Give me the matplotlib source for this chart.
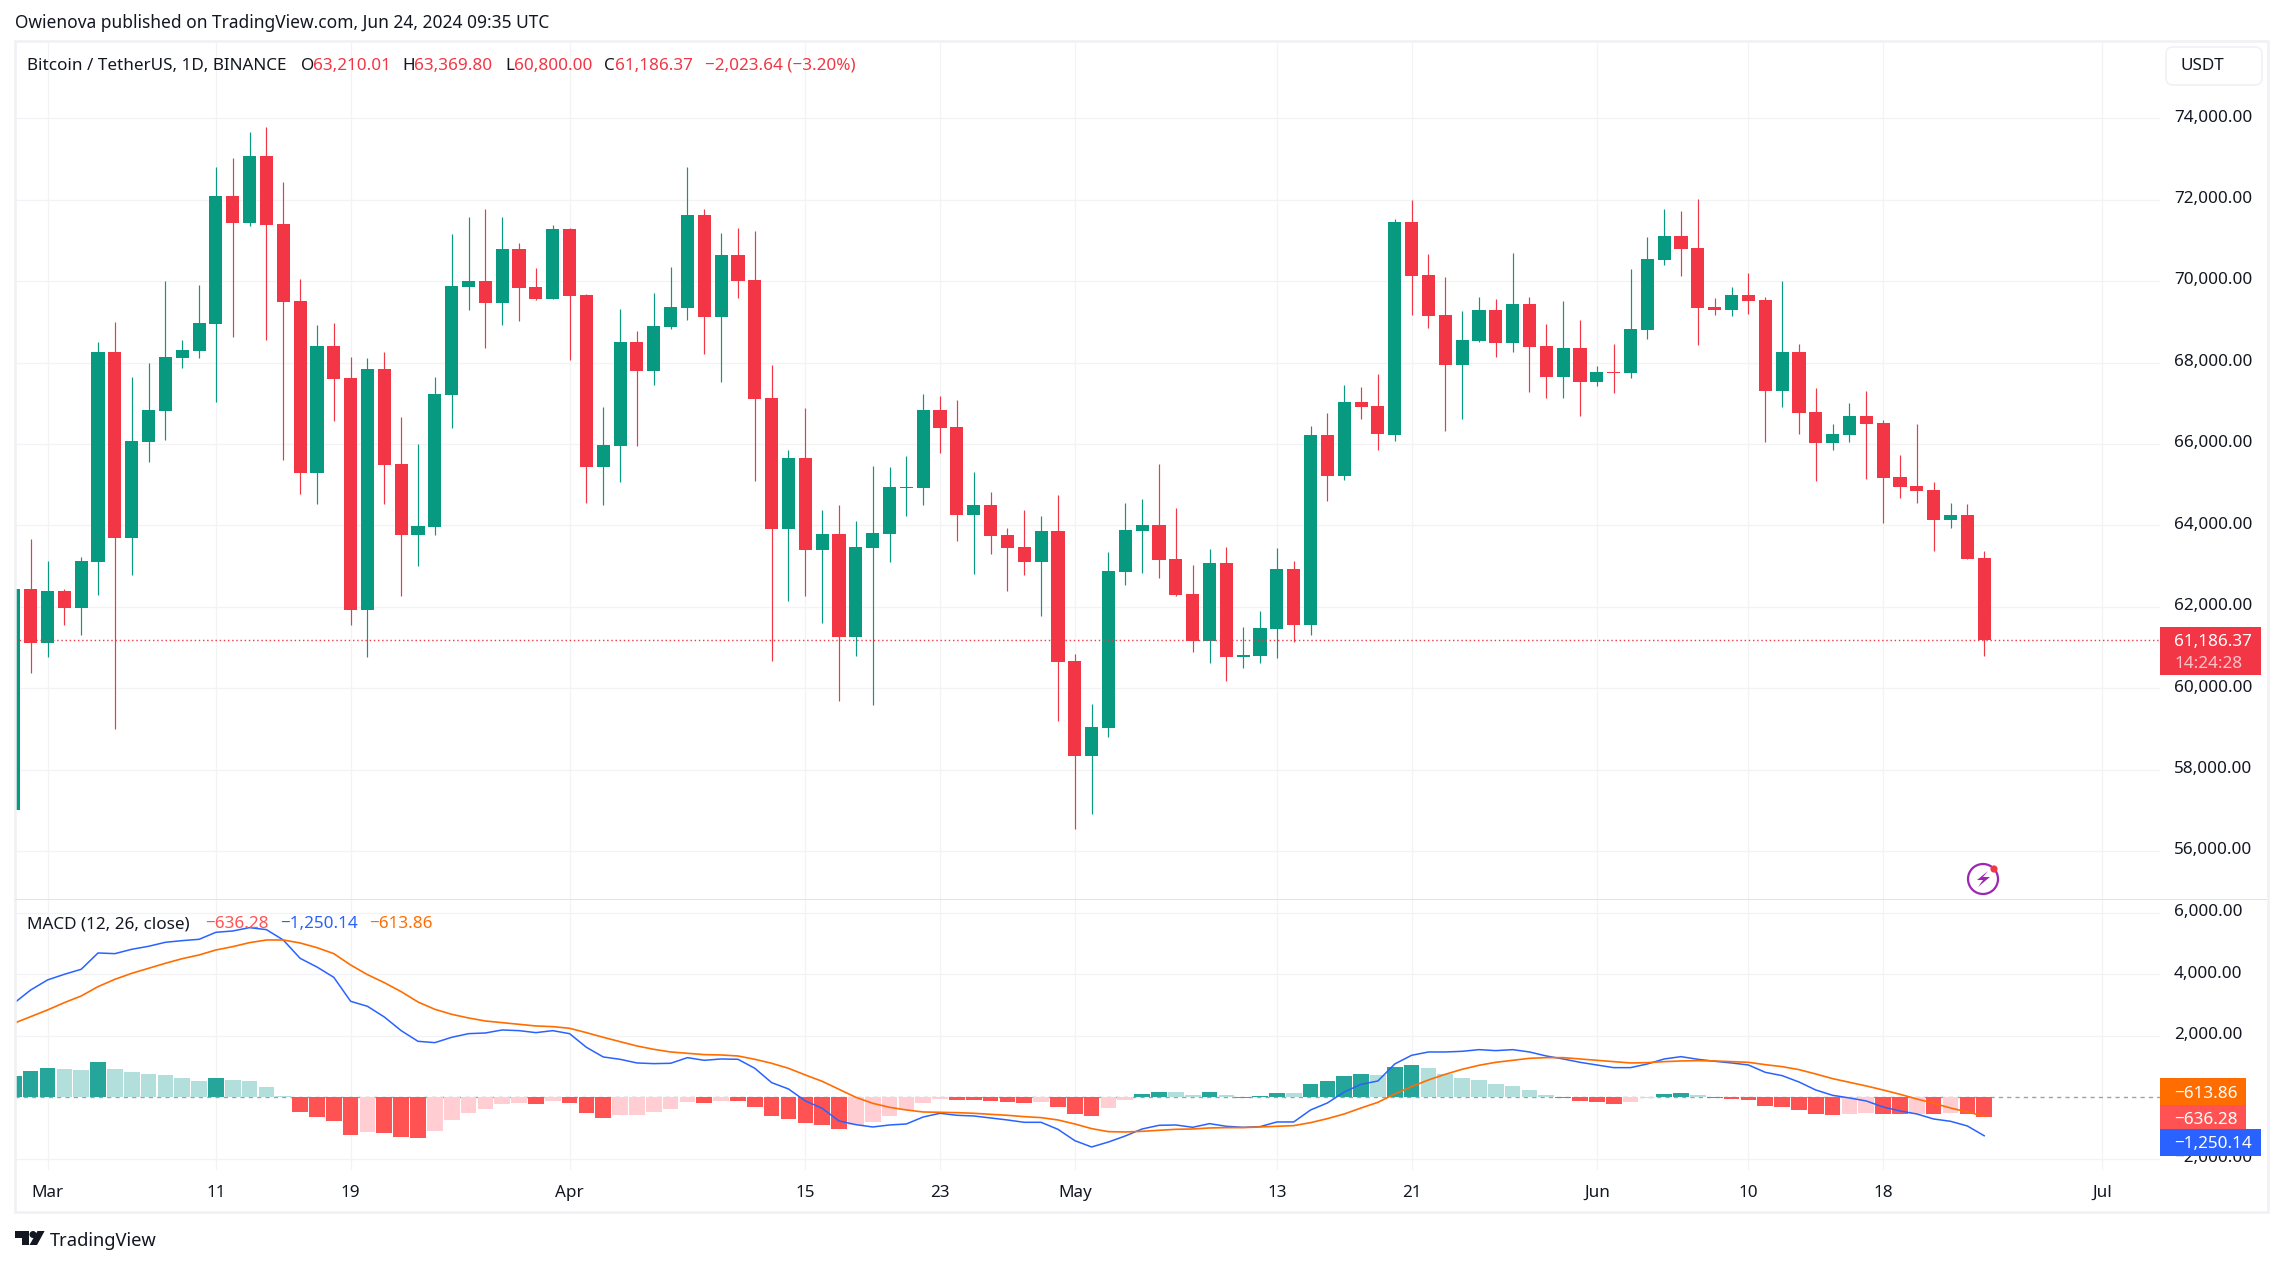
import matplotlib
matplotlib.use("Agg")
import numpy as np
from matplotlib import pyplot as plt
from matplotlib.patches import Rectangle, Circle, Polygon, FancyBboxPatch
from matplotlib.transforms import IdentityTransform, ScaledTranslation

W, H = 2283, 1265

# day offset from Mar 1 2024, first candle is Feb 28
days = list(range(-2, 116))

opens = [57019, 62439, 61120, 62389, 61980, 63102, 68260, 63699, 66049, 66810,
         68112, 68284, 68947, 72091, 71428, 73073, 71403, 69512, 65288, 68407,
         67621, 61923, 67842, 65509, 63765, 63961, 67203, 69856, 70003, 69463,
         70789, 69856, 69561, 71281, 69660, 65435, 65951, 68505, 67793, 68874,
         69340, 71624, 69119, 70642, 70028, 67130, 63912, 65656, 63396, 63789,
         61268, 63446, 63789, 64919, 64919, 66835, 66417, 64256, 64502, 63765,
         63470, 63102, 63863, 60670, 58337, 59025, 62856, 63863, 64010, 63176,
         62316, 61161, 63077, 60768, 60793, 61456, 62930, 61554, 66221, 65214,
         67031, 66933, 66221, 71453, 70151, 69168, 67940, 68521, 69291, 68481,
         69439, 68407, 67646, 68358, 67523, 67768, 67744, 68800, 70515, 71109,
         70814, 69357, 69291, 69660, 69533, 67302, 68260, 66786, 66025, 66212,
         66688, 66516, 65189, 64968, 64870, 64133, 64248, 63210.01]
highs = [62439, 63667, 63126, 62439, 63225, 68505, 68996, 67646, 67989, 70003,
         68554, 69905, 72803, 73024, 73663, 73786, 72435, 70052, 68923, 68972,
         68137, 68112, 68260, 66663, 66000, 67646, 71158, 71575, 71772, 71575,
         70937, 70323, 71379, 71305, 69684, 66909, 69316, 68775, 69709, 70347,
         72803, 71772, 71182, 71305, 71231, 67940, 65853, 66884, 64379, 64502,
         64109, 65460, 65435, 65705, 67228, 67179, 67081, 65312, 64821, 63937,
         64379, 64232, 64747, 60842, 59614, 63347, 64551, 64649, 65509, 64428,
         63028, 63421, 63470, 61505, 61898, 63446, 63126, 66442, 66761, 67449,
         67400, 67719, 71526, 71993, 70667, 70102, 69267, 69610, 69561, 70691,
         69610, 68947, 69512, 69037, 67916, 68456, 70298, 71084, 71772, 71723,
         72017, 69586, 69848, 70200, 69610, 70003, 68456, 67367, 66491, 67007,
         67302, 66589, 65722, 66491, 65058, 64551, 64526, 63369.80]
lows = [57019, 60375, 60777, 61554, 61309, 62291, 59008, 62782, 65558, 66098,
        67867, 68112, 67031, 68628, 71354, 68554, 65607, 64772, 64526, 66565,
        61554, 60777, 64526, 62275, 63012, 63765, 66393, 69291, 68358, 68923,
        69021, 69537, 69561, 68063, 64551, 64502, 65067, 65951, 67449, 68824,
        69045, 68210, 67523, 69586, 65091, 60670, 62144, 62267, 61612, 59688,
        60793, 59589, 63102, 64232, 64502, 65779, 63618, 62807, 63298, 62389,
        62782, 61784, 59197, 56544, 56912, 58804, 62537, 62831, 62709, 62267,
        60891, 60621, 60179, 60498, 60621, 60744, 61137, 61309, 64600, 65116,
        66614, 65853, 66074, 69168, 68849, 66319, 66614, 68505, 68137, 68260,
        67277, 67130, 67130, 66688, 67433, 67253, 67621, 68579, 70396, 70126,
        68431, 69168, 69144, 69185, 66049, 66900, 66237, 65083, 65853, 66049,
        65140, 64060, 64674, 64551, 63372, 63929, 63176, 60800.00]
closes = [62439, 61120, 62389, 61980, 63126, 68260, 63699, 66074, 66835, 68137,
          68309, 68972, 72091, 71428, 73073, 71379, 69488, 65288, 68407, 67596,
          61923, 67842, 65484, 63765, 63986, 67228, 69881, 70003, 69463, 70789,
          69831, 69561, 71281, 69635, 65435, 65975, 68505, 67793, 68898, 69365,
          71624, 69119, 70642, 70003, 67105, 63912, 65656, 63396, 63789, 61268,
          63470, 63814, 64944, 64944, 66835, 66393, 64256, 64502, 63740, 63446,
          63102, 63863, 60646, 58337, 59049, 62881, 63888, 64010, 63151, 62291,
          61161, 63077, 60768, 60818, 61481, 62930, 61554, 66221, 65214, 67031,
          66909, 66246, 71453, 70126, 69144, 67940, 68554, 69291, 68481, 69439,
          68374, 67646, 68358, 67523, 67768, 67744, 68824, 70544, 71109, 70789,
          69340, 69291, 69660, 69512, 67302, 68260, 66761, 66025, 66237, 66688,
          66491, 65165, 64936, 64846, 64133, 64248, 63176, 61186.37]

hist = [694, 856, 954, 921, 889, 1149, 921, 824, 759, 726, 629, 531, 629, 564, 531,
        336, 43, -477, -640, -770, -1225, -1127, -1160, -1290, -1322, -1095, -737,
        -509, -379, -217, -184, -217, -119, -184, -509, -672, -575, -564, -477, -379,
        -152, -184, -119, -130, -314, -607, -705, -835, -900, -1030, -900, -802, -607,
        -412, -184, -54, -87, -98, -119, -152, -184, -152, -314, -542, -607, -347,
        -87, 108, 173, 163, 76, 173, 76, -22, 43, 141, 130, 434, 531, 694, 759, 726,
        986, 1051, 954, 759, 629, 564, 434, 369, 238, 76, -22, -119, -152, -217, -152,
        -22, 108, 141, 76, -22, -54, -87, -282, -314, -412, -542, -575, -542, -509,
        -542, -553, -542, -553, -509, -542, -636.28]
macd_line = [3057, 3490, 3816, 4000, 4163, 4694, 4672, 4813, 4911, 5041, 5095, 5138,
             5366, 5409, 5518, 5453, 5116, 4520, 4238, 3902, 3122, 2959, 2612, 2168,
             1821, 1778, 1951, 2070, 2092, 2190, 2168, 2103, 2168, 2070, 1626, 1312,
             1236, 1117, 1095, 1106, 1290, 1203, 1247, 1236, 943, 477, 271, -119, -358,
             -770, -889, -965, -900, -867, -640, -520, -585, -607, -672, -737, -813,
             -813, -1041, -1409, -1615, -1453, -1257, -1030, -911, -900, -976, -856,
             -943, -976, -954, -802, -802, -412, -184, 173, 423, 531, 1084, 1366, 1474,
             1474, 1496, 1550, 1518, 1550, 1474, 1344, 1247, 1138, 1051, 965, 965, 1084,
             1247, 1322, 1236, 1171, 1117, 1051, 813, 705, 499, 238, 65, -22, -119,
             -314, -444, -542, -705, -780, -932, -1250.14]
signal_line = [2406, 2623, 2840, 3079, 3295, 3599, 3837, 4032, 4195, 4358, 4509, 4629,
               4791, 4900, 5030, 5116, 5116, 5019, 4867, 4672, 4303, 3989, 3729, 3436,
               3100, 2862, 2699, 2580, 2482, 2428, 2374, 2320, 2298, 2244, 2103, 1951,
               1810, 1669, 1561, 1474, 1431, 1388, 1377, 1344, 1236, 1106, 943, 726, 520,
               260, 0, -195, -325, -412, -477, -488, -499, -520, -553, -585, -629, -661,
               -737, -867, -1019, -1117, -1127, -1106, -1073, -1041, -1030, -997, -986,
               -986, -965, -943, -921, -824, -694, -542, -347, -163, 108, 347, 564, 748,
               911, 1041, 1138, 1203, 1268, 1290, 1290, 1247, 1203, 1160, 1117, 1127,
               1160, 1182, 1192, 1182, 1160, 1138, 1062, 997, 900, 759, 607, 488, 369, 238,
               98, -54, -195, -347, -477, -613.86]

price_ticks = list(range(56000, 76000, 2000))
macd_ticks = [-2000, 2000, 4000, 6000]
time_days = [0, 10, 18, 31, 45, 53, 61, 73, 81, 92, 101, 109, 122]
time_labels = ["Mar", "11", "19", "Apr", "15", "23", "May", "13", "21", "Jun", "10", "18", "Jul"]

GREEN = "#089981"
RED = "#F23645"
GRID = "#f3f3f5"
INK = "#131722"
FONT = "Noto Sans"
FS = 12.3

plt.rcParams["font.family"] = [FONT, "DejaVu Sans"]
plt.rcParams["font.size"] = FS

fig = plt.figure(figsize=(W / 100, H / 100), dpi=100, facecolor="white")


def fx(x):
    return x / W


def fy(y):
    return 1 - y / H


def put(x, y, s, color=INK, size=FS, **kw):
    fig.text(fx(x), fy(y + 1.5), s, color=color, fontsize=size, va="center", ha=kw.pop("ha", "left"), **kw)


def box(x0, y0, x1, y1, color):
    fig.add_artist(Rectangle((fx(x0), fy(y1)), fx(x1 - x0), (y1 - y0) / H, transform=fig.transFigure,
                             facecolor=color, edgecolor="none"))


def pane(y0, y1, ylim):
    ax = fig.add_axes([fx(15), fy(y1), fx(2160 - 15), (y1 - y0) / H])
    ax.set_xlim(-1.93, 125.44)
    ax.set_ylim(*ylim)
    for s in ax.spines.values():
        s.set_visible(False)
    ax.grid(True, color=GRID, linewidth=0.9)
    ax.set_axisbelow(True)
    ax.yaxis.tick_right()
    ax.tick_params(axis="y", length=0, pad=10, labelcolor=INK, labelsize=FS)
    ax.set_xticks(time_days)
    ax.set_facecolor("none")
    return ax


# price pane
ax1 = pane(41, 899, (54826, 75898))
ax1.set_yticks(price_ticks)
ax1.set_yticklabels([f"{v:,.2f}" for v in price_ticks])
ax1.tick_params(axis="x", length=0, labelbottom=False)

d = np.array(days)
o = np.array(opens)
c = np.array(closes)
up = c >= o
cols = np.where(up, GREEN, RED)
ax1.vlines(d, lows, highs, colors=cols, linewidth=0.85, zorder=2)
ax1.bar(d, np.abs(c - o), bottom=np.minimum(o, c), width=0.78, color=cols, linewidth=0, zorder=3)
ax1.axhline(closes[-1], color=RED, linewidth=1.0, linestyle=(0, (1, 2)), zorder=4)

# macd pane
ax2 = pane(899, 1170, (-2364, 6449))
ax2.set_yticks(macd_ticks)
ax2.set_yticklabels([f"{v:,.2f}".replace("-", "\u2212") for v in macd_ticks])
ax2.set_xticks(time_days)
ax2.set_xticklabels(time_labels)
ax2.tick_params(axis="x", length=0, pad=11, labelcolor=INK, labelsize=FS)

# axis numbers sit a little above their grid lines
lift = ScaledTranslation(0, 2 / 72, fig.dpi_scale_trans)
for ax in (ax1, ax2):
    for lab in ax.get_yticklabels():
        lab.set_transform(lab.get_transform() + lift)

hist_cols = []
prev = hist[0] - 1
for v in hist:
    if v >= 0:
        hist_cols.append("#26a69a" if v > prev else "#b2dfdb")
    else:
        hist_cols.append("#ffcdd2" if v > prev else "#ff5252")
    prev = v
ax2.axhline(0, color="#787b86", linewidth=1.0, linestyle=(0, (3, 3)), alpha=0.7, zorder=1.5)
ax2.bar(d, hist, width=0.93, color=hist_cols, linewidth=0, zorder=2)
ax2.plot(d, macd_line, color="#2962FF", linewidth=1.1, zorder=3)
ax2.plot(d, signal_line, color="#FF6D00", linewidth=1.2, zorder=4)

# frame and pane separator
fig.add_artist(Rectangle((fx(14.5), fy(1211.7)), fx(2267.7 - 14.5), (1211.7 - 40.7) / H, transform=fig.transFigure,
                         facecolor="none", edgecolor="#f0f0f5", linewidth=1.8))
box(15, 898.5, 2267, 900, "#e0e3eb")

# header lines
put(15, 22, "Owienova published on TradingView.com, Jun 24, 2024 09:35 UTC", size=12.5)
put(27, 64, "Bitcoin / TetherUS, 1D, BINANCE")
put(300.5, 64, "O")
put(312.6, 64, "63,210.01", RED)
put(402, 64, "H")
put(414, 64, "63,369.80", RED)
put(505, 64, "L")
put(514, 64, "60,800.00", RED)
put(604, 64, "C")
put(615, 64, "61,186.37", RED)
put(705, 64, "\u22122,023.64 (\u22123.20%)", RED)

put(27, 923, "MACD (12, 26, close)")
put(205.5, 923, "\u2212636.28", "#FF5252")
put(279.7, 923, "\u22121,250.14", "#2962FF")
put(369, 923, "\u2212613.86", "#FF6D00")

# last value boxes on the axis
box(2160, 627, 2261, 675, RED)
put(2174, 640, "61,186.37", "white", weight="medium")
put(2174, 662, "14:24:28", "#fbc4c9", weight="medium")

box(2160, 1078, 2246, 1105, "#FF6D00")
box(2160, 1105, 2246, 1129, "#FF5252")
box(2160, 1129, 2261, 1156, "#2962FF")
put(2174, 1092, "\u2212613.86", "white")
put(2174, 1118, "\u2212636.28", "white")
put(2174, 1143, "\u22121,250.14", "white")

# currency button
fig.add_artist(FancyBboxPatch((2166, H - 85), 96, 38, boxstyle="round,pad=0,rounding_size=7", transform=IdentityTransform(),
                              facecolor="white", edgecolor="#f0f0f5", linewidth=1.1))
put(2181, 65, "USDT")

# flash icon
fig.add_artist(Circle((1983, H - 879), 15, transform=IdentityTransform(), facecolor="white", edgecolor="#9c27b0", linewidth=1.6))
fig.add_artist(Polygon([(1988, H - 871), (1977, H - 880), (1983, H - 880), (1978, H - 887), (1990, H - 877), (1983, H - 877)],
                       transform=IdentityTransform(), facecolor="#9c27b0", edgecolor="none"))
fig.add_artist(Circle((1994, H - 869), 3.6, transform=IdentityTransform(), facecolor=RED, edgecolor="none"))

# logo
fig.add_artist(Polygon([(14.5, H - 1231), (29, H - 1231), (29, H - 1245), (22, H - 1245), (22, H - 1238), (14.5, H - 1238)],
                       transform=IdentityTransform(), facecolor=INK, edgecolor="none"))
fig.add_artist(Circle((33, H - 1234.5), 3.5, transform=IdentityTransform(), facecolor=INK, edgecolor="none"))
fig.add_artist(Polygon([(37.5, H - 1231), (44.6, H - 1231), (37, H - 1245), (29.5, H - 1245)],
                       transform=IdentityTransform(), facecolor=INK, edgecolor="none"))
put(50, 1239, "TradingView", size=13.2)

fig.savefig("out.png", dpi=100)
